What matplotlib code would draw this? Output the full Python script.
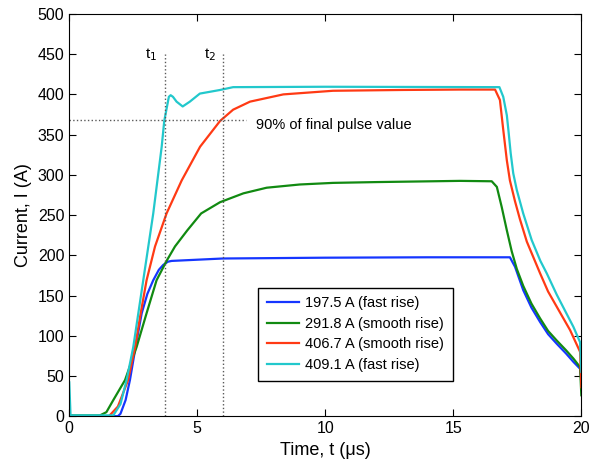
import matplotlib
matplotlib.use("Agg")
import matplotlib.pyplot as plt

plt.rcParams['font.family'] = ['Liberation Sans', 'DejaVu Sans']

# 197.5 A (fast rise)
t_blue = [0, 1.9, 2.0, 2.2, 2.37, 2.6, 2.83, 3.05, 3.28, 3.5, 3.67, 3.85, 4.0, 6, 10, 14,
          17.21, 17.41, 17.73, 18.05, 18.39, 18.7, 19.04, 19.4, 19.69, 19.95, 20]
i_blue = [0, 0, 3, 20, 45, 88, 128, 152, 169, 182, 188, 192, 193, 196, 197, 197.5,
          197.5, 185.7, 156.7, 135, 117, 102, 90, 78, 67.5, 59, 45]

# 291.8 A (smooth rise)
t_green = [0, 1.2, 1.45, 1.72, 2.18, 2.63, 3.02, 3.41, 3.8, 4.13, 4.61, 5.15, 5.89, 6.8,
           7.71, 9, 10.3, 12, 15.26, 16.5, 16.7, 16.89, 17.09, 17.28, 17.48, 17.73, 18.05,
           18.39, 18.7, 19.04, 19.4, 19.69, 19.95, 20]
i_green = [1, 1, 5, 20, 45, 86, 128, 169, 193, 211, 231, 252, 266, 277,
           284, 288, 290, 291, 292.5, 292, 285, 260, 231, 205, 183, 162, 140,
           121.5, 106, 94, 82, 71.6, 61, 26]

# 406.7 A (smooth rise)
t_red = [0, 1.55, 1.9, 2.3, 2.57, 2.79, 3.02, 3.35, 3.8, 4.39, 5.11, 5.89, 6.4, 7.06,
         8.36, 10.3, 13, 15.26, 16.63, 16.82, 16.95, 17.09, 17.21, 17.41, 17.6, 17.87,
         18.39, 18.7, 19.04, 19.56, 19.95, 20]
i_red = [0, 0, 12, 45, 86, 128, 169, 211, 252, 293, 335, 367, 381, 391,
         400, 404.5, 405.5, 406, 406, 393, 356, 318, 293, 267, 245, 217,
         177.5, 155, 136, 107, 80, 36]

# 409.1 A (fast rise)
t_cyan = [0, 0.05, 1.72, 2.0, 2.24, 2.5, 2.89, 3.28, 3.61, 3.71, 3.89, 3.96, 4.05, 4.19,
          4.43, 4.71, 5.1, 5.89, 6.4, 10, 16.8, 16.95, 17.09, 17.15, 17.24, 17.34, 17.48,
          17.73, 18.06, 18.4, 18.65, 19.04, 19.3, 19.69, 19.95, 20]
i_cyan = [42, 1, 1, 15, 45, 86, 169, 252, 335, 367, 397, 399, 397, 391,
          385, 391, 401, 405.5, 409, 409.5, 409, 397, 374, 356, 327, 302, 281,
          252, 219, 193, 177.5, 151, 135, 111, 92, 55]

t1, t2 = 3.75, 6.0
i90 = 0.9 * 409.1

fig = plt.figure(figsize=(5.92, 4.65), dpi=100)
ax = fig.add_axes([0.117, 0.105, 0.865, 0.865])

ax.plot(t_blue, i_blue, color='#1536ff', lw=1.6, label='197.5 A (fast rise)')
ax.plot(t_green, i_green, color='#118a11', lw=1.6, label='291.8 A (smooth rise)')
ax.plot(t_red, i_red, color='#ff3a14', lw=1.6, label='406.7 A (smooth rise)')
ax.plot(t_cyan, i_cyan, color='#22c8cc', lw=1.6, label='409.1 A (fast rise)')

# markers for t1, t2 and the 90% level
ax.plot([t1, t1], [0, 450], ':', color='0.35', lw=1)
ax.plot([t2, t2], [0, 450], ':', color='0.35', lw=1)
ax.plot([0, 6.9], [i90, i90], ':', color='0.35', lw=1)
ax.text(3.45, 449, 't$_1$', ha='right', va='center', fontsize=11)
ax.text(5.72, 449, 't$_2$', ha='right', va='center', fontsize=11)
ax.text(7.3, 362, '90% of final pulse value', ha='left', va='center', fontsize=10.5)

ax.set_xlim(0, 20)
ax.set_ylim(0, 500)
ax.set_xticks([0, 5, 10, 15, 20])
ax.set_yticks(range(0, 501, 50))
ax.tick_params(direction='in', top=True, right=True, length=5, labelsize=11.5)
ax.set_xlabel('Time, t (\u03bcs)', fontsize=13)
ax.set_ylabel('Current, I (A)', fontsize=13)

ax.legend(loc='lower left', bbox_to_anchor=(0.355, 0.07), fontsize=10.5,
          frameon=True, fancybox=False, edgecolor='black', handlelength=2.2,
          borderpad=0.6, labelspacing=0.45, handletextpad=0.4, framealpha=1)

plt.savefig('out.png', dpi=100)
